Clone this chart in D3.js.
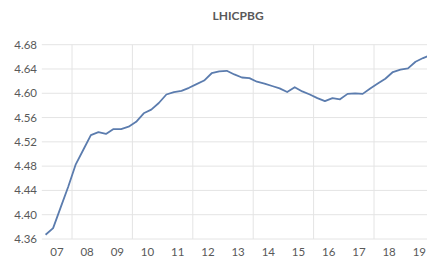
<!DOCTYPE html>
<html>
<head>
<meta charset="utf-8">
<script src="https://cdn.jsdelivr.net/npm/d3@7"></script>
<style>
  body { margin: 0; background: #fff; }
  svg { display: block; font-family: Lato, 'Open Sans', sans-serif; }
</style>
</head>
<body>
<svg id="chart" width="427" height="262"></svg>
<script>
// Quarterly values, 2007Q1 .. 2019Q4
const values = [
  4.367, 4.378, 4.412, 4.446, 4.483, 4.507, 4.531, 4.536,
  4.533, 4.541, 4.541, 4.545, 4.553, 4.567, 4.573, 4.584,
  4.598, 4.602, 4.604, 4.609, 4.615, 4.621, 4.633, 4.636,
  4.637, 4.631, 4.626, 4.625, 4.619, 4.616, 4.612, 4.608,
  4.602, 4.610, 4.603, 4.598, 4.592, 4.587, 4.592, 4.590,
  4.599, 4.600, 4.599, 4.608, 4.616, 4.624, 4.635, 4.639,
  4.641, 4.652, 4.658, 4.663
]
const yearLabels = ['07', '08', '09', '10', '11', '12', '13', '14', '15', '16', '17', '18', '19']
const yTicks = [4.36, 4.40, 4.44, 4.48, 4.52, 4.56, 4.60, 4.64, 4.68]
const title = 'LHICPBG'

const svg = d3.select('#chart')

// Plot area (right edge runs past the picture, as in the original crop)
const plotLeft = 41.8
const plotRight = 434.4
const plotTop = 44.7
const plotBottom = 239

const x = d3.scaleLinear().domain([0, values.length]).range([plotLeft, plotRight])
const y = d3.scaleLinear().domain([4.36, 4.68]).range([plotBottom, plotTop])

const grid = '#e4e4e4'
const textColor = '#595959'

// Horizontal gridlines
svg.append('g')
  .selectAll('line')
  .data(yTicks)
  .join('line')
  .attr('x1', plotLeft)
  .attr('x2', plotRight)
  .attr('y1', d => y(d))
  .attr('y2', d => y(d))
  .attr('stroke', grid)
  .attr('stroke-width', 1)

// Vertical gridlines every two years (start of 2008, 2010, ...)
const vGrid = d3.range(4, values.length, 8)
svg.append('g')
  .selectAll('line')
  .data(vGrid)
  .join('line')
  .attr('x1', d => x(d))
  .attr('x2', d => x(d))
  .attr('y1', plotTop)
  .attr('y2', plotBottom)
  .attr('stroke', grid)
  .attr('stroke-width', 1)

// Y tick labels
svg.append('g')
  .selectAll('text')
  .data(yTicks)
  .join('text')
  .attr('x', 37)
  .attr('y', d => y(d))
  .attr('dy', '0.35em')
  .attr('text-anchor', 'end')
  .attr('font-size', 11.5)
  .attr('fill', textColor)
  .text(d => d.toFixed(2))

// X tick labels, centred on each year
svg.append('g')
  .selectAll('text')
  .data(yearLabels)
  .join('text')
  .attr('x', (d, i) => x(i * 4 + 2))
  .attr('y', 252)
  .attr('dy', '0.35em')
  .attr('text-anchor', 'middle')
  .attr('font-size', 11.5)
  .attr('fill', textColor)
  .text(d => d)

// The series line
const line = d3.line()
  .x((d, i) => x(i + 0.5))
  .y(d => y(d))

svg.append('path')
  .datum(values)
  .attr('d', line)
  .attr('fill', 'none')
  .attr('stroke', '#5b7cae')
  .attr('stroke-width', 1.8)
  .attr('stroke-linejoin', 'round')

// Title
svg.append('text')
  .attr('x', (plotLeft + plotRight) / 2)
  .attr('y', 16)
  .attr('dy', '0.35em')
  .attr('text-anchor', 'middle')
  .attr('font-size', 12)
  .attr('font-weight', 'bold')
  .attr('fill', textColor)
  .text(title)
</script>
</body>
</html>
